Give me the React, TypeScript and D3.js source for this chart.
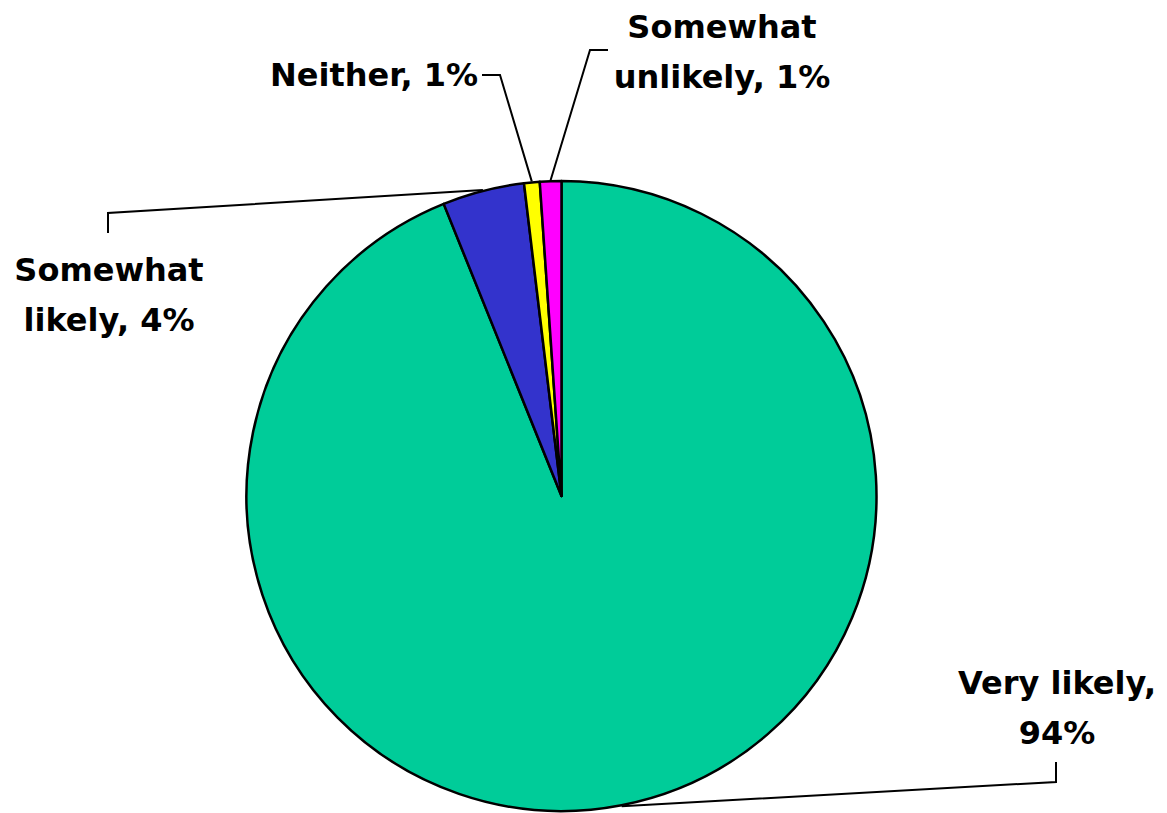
import React from "react";
import * as d3 from "d3";

const categories = ["Very likely", "Somewhat likely", "Neither", "Somewhat unlikely"];
const values = [93.9, 4.2, 0.8, 1.1];
const displayLabels = [
  ["Very likely,", "94%"],
  ["Somewhat", "likely, 4%"],
  ["Neither, 1%"],
  ["Somewhat", "unlikely, 1%"],
];
const colors = ["#00CC99", "#3333CC", "#FFFF00", "#FF00FF"];

// layout of labels (x, y of first line center, text-anchor) and leader elbows
const labelLayout = [
  { x: 1057, y: 683, anchor: "middle", elbow: [1056, 782], end: [1056, 762] },
  { x: 109, y: 270, anchor: "middle", elbow: [108, 213], end: [108, 233] },
  { x: 478, y: 75, anchor: "end", elbow: [500, 75], end: [482, 75] },
  { x: 722, y: 27, anchor: "middle", elbow: [590, 50], end: [608, 50] },
];

const W = 1167;
const H = 813;
const cx = 561.5;
const cy = 496;
const R = 315;
const lineGap = 50;

export default function App() {
  const pie = d3.pie<number>().sort(null).value((d) => d)(values);
  const arc = d3.arc<d3.PieArcDatum<number>>().innerRadius(0).outerRadius(R);

  return (
    <svg
      width={W}
      height={H}
      style={{ position: "absolute", left: 0, top: 0, background: "#fff" }}
      fontFamily="'DejaVu Sans', sans-serif"
    >
      <g transform={`translate(${cx},${cy})`}>
        {pie.map((p, i) => (
          <path key={i} d={arc(p) || ""} fill={colors[i]} stroke="#000" strokeWidth={2.5} strokeLinejoin="round" />
        ))}
      </g>
      {pie.map((p, i) => {
        const mid = (p.startAngle + p.endAngle) / 2;
        const px = cx + (R + 1) * Math.sin(mid);
        const py = cy - (R + 1) * Math.cos(mid);
        const L = labelLayout[i];
        const pts = [[px, py], L.elbow, L.end];
        const line = d3.line()(pts as [number, number][]);
        return <path key={"l" + i} d={line || ""} fill="none" stroke="#000" strokeWidth={2} />;
      })}
      {displayLabels.map((lines, i) => {
        const L = labelLayout[i];
        return (
          <text
            key={"t" + i}
            x={L.x}
            y={L.y}
            textAnchor={L.anchor as any}
            fontSize={32}
            fontWeight="bold"
            fill="#000"
            dominantBaseline="central"
          >
            {lines.map((s, j) => (
              <tspan key={j} x={L.x} y={L.y + j * lineGap}>
                {s}
              </tspan>
            ))}
          </text>
        );
      })}
      <title>{categories.join(", ")}</title>
    </svg>
  );
}
